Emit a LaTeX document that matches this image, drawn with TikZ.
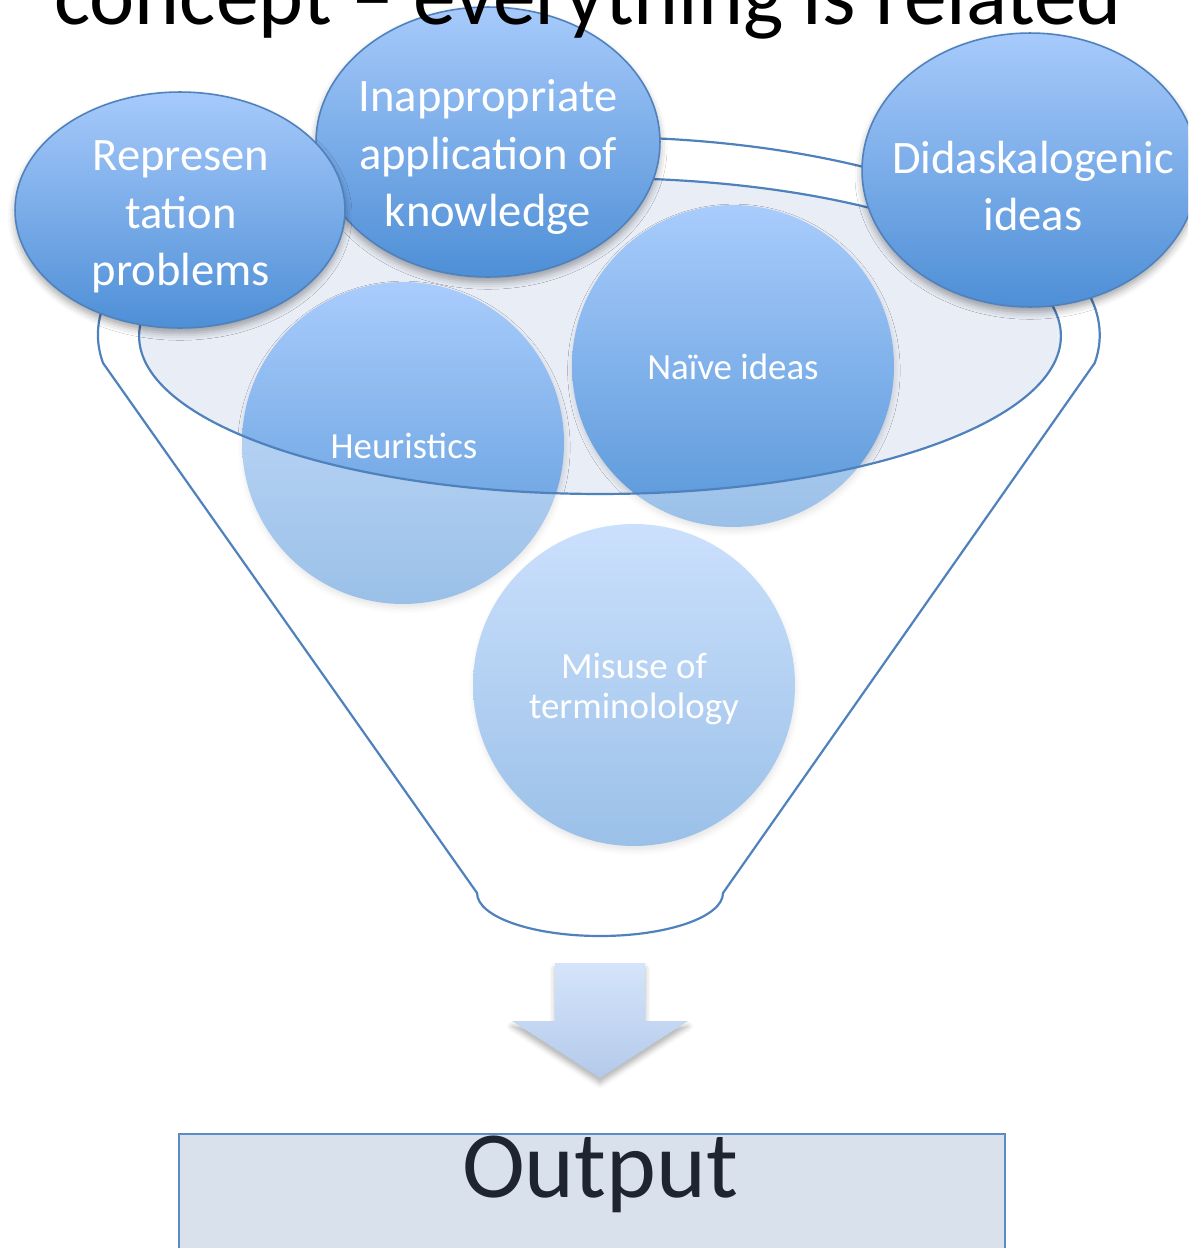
\documentclass[tikz,border=0pt]{standalone}
\usepackage{fontspec}
\setmainfont{Carlito}
\usetikzlibrary{shapes.geometric,shadows.blur}

\definecolor{rimblue}{HTML}{4F81BD}
\definecolor{bubbletop}{HTML}{A7CAFB}
\definecolor{bubblebot}{HTML}{4E8FD6}
\definecolor{balltop}{HTML}{A9CCFC}
\definecolor{ballbot}{HTML}{5897D9}
\definecolor{mouthfill}{HTML}{E9EDF5}
\definecolor{arrowtop}{HTML}{D4E4FB}
\definecolor{arrowbot}{HTML}{B4CAEA}
\definecolor{outfill}{HTML}{D9E1EC}
\definecolor{outedge}{HTML}{5B8BC6}
\definecolor{outtext}{HTML}{1F2530}

\tikzset{
  rim/.style={draw=rimblue, line width=1.25pt},
  bubble/.style={ellipse, inner sep=0pt, draw=rimblue, line width=0.9pt,
    top color=bubbletop, bottom color=bubblebot,
    blur shadow={shadow xshift=0pt, shadow yshift=-3pt, shadow blur radius=4pt, shadow opacity=35}},
  ball/.style={circle, inner sep=0pt, minimum size=6.44cm,
    top color=balltop, bottom color=ballbot,
    blur shadow={shadow xshift=0.5pt, shadow yshift=-2.5pt, shadow blur radius=3pt, shadow opacity=16}},
  bigtext/.style={text=white, align=center, inner sep=0pt,
    font=\fontsize{26.5}{32.7}\selectfont},
  smalltext/.style={text=white, align=center, inner sep=0pt,
    font=\fontsize{21}{22.8}\selectfont},
}

\begin{document}
\begin{tikzpicture}[x=0.02cm, y=-0.02cm]
\useasboundingbox (0,0) rectangle (1188,1248);
\begin{scope}
\clip (0,0) rectangle (1188,1248);

% mouth of the funnel
\node[ellipse, fill=mouthfill, inner sep=0pt, minimum width=18.44cm, minimum height=6.32cm] (mouth) at (600,336) {};

% ideas falling into the funnel
\node[ball] (heur) at (403,443) {};
\node[ball] (naive) at (733,366) {};
\node[ball] (misuse) at (634,685) {};

% translucent funnel body in front of the balls
\fill[white, opacity=0.4, even odd rule]
  (103,363) arc[start angle=188.13, end angle=-8.13, x radius=10.02cm, y radius=3.96cm]
  -- (723,893) arc[start angle=0, end angle=-180, x radius=2.46cm, y radius=0.86cm]
  -- cycle
  (mouth.center) ellipse[x radius=9.22cm, y radius=3.16cm];

% funnel outline
\draw[rim]
  (103,363) arc[start angle=188.13, end angle=-8.13, x radius=10.02cm, y radius=3.96cm]
  -- (723,893) arc[start angle=0, end angle=-180, x radius=2.46cm, y radius=0.86cm]
  -- cycle;
\draw[rim] (mouth.center) ellipse[x radius=9.22cm, y radius=3.16cm];

\node[smalltext] (heurtxt) at (404,446) {Heuristics};
\node[smalltext] (naivetxt) at (733,367) {Naïve ideas};
\node[smalltext] (misusetxt) at (634,689) {Misuse of\\terminolology};

% ideas on the rim
\node[bubble, minimum width=6.88cm, minimum height=5.4cm] (inapp) at (488,142) {};
\node[bigtext] (inapptxt) at (488,157) {Inappropriate\\application of\\knowledge};
\node[bubble, minimum width=6.6cm, minimum height=4.72cm] (repr) at (180,210) {};
\node[bigtext] (reprtxt) at (181,217) {Represen\\tation\\problems};
\node[bubble, minimum width=6.72cm, minimum height=5.48cm] (didask) at (1030,170) {};
\node[bigtext] (didasktxt) at (1033,186) {Didaskalogenic\\ideas};

% output arrow
\path[top color=arrowtop, bottom color=arrowbot,
  blur shadow={shadow xshift=0pt, shadow yshift=-3pt, shadow blur radius=3pt, shadow opacity=30}]
  (555,963) -- (645,963) -- (645,1021) -- (688,1021) -- (600,1078)
  -- (512,1021) -- (555,1021) -- cycle;

% output box
\node[rectangle, draw=outedge, line width=1pt, fill=outfill, inner sep=0pt,
  minimum width=16.52cm, minimum height=4cm, anchor=north] (output) at (592,1133) {};
\node[anchor=base, text=outtext, inner sep=0pt, font=\fontsize{54}{60}\selectfont] (outtxt) at (600,1197) {Output};

% heading, running off the top edge
\node[anchor=base, text=black, inner sep=0pt, font=\fontsize{48.7}{52}\selectfont] (title) at (588,24) {concept – everything is related};
\end{scope}
\end{tikzpicture}
\end{document}
